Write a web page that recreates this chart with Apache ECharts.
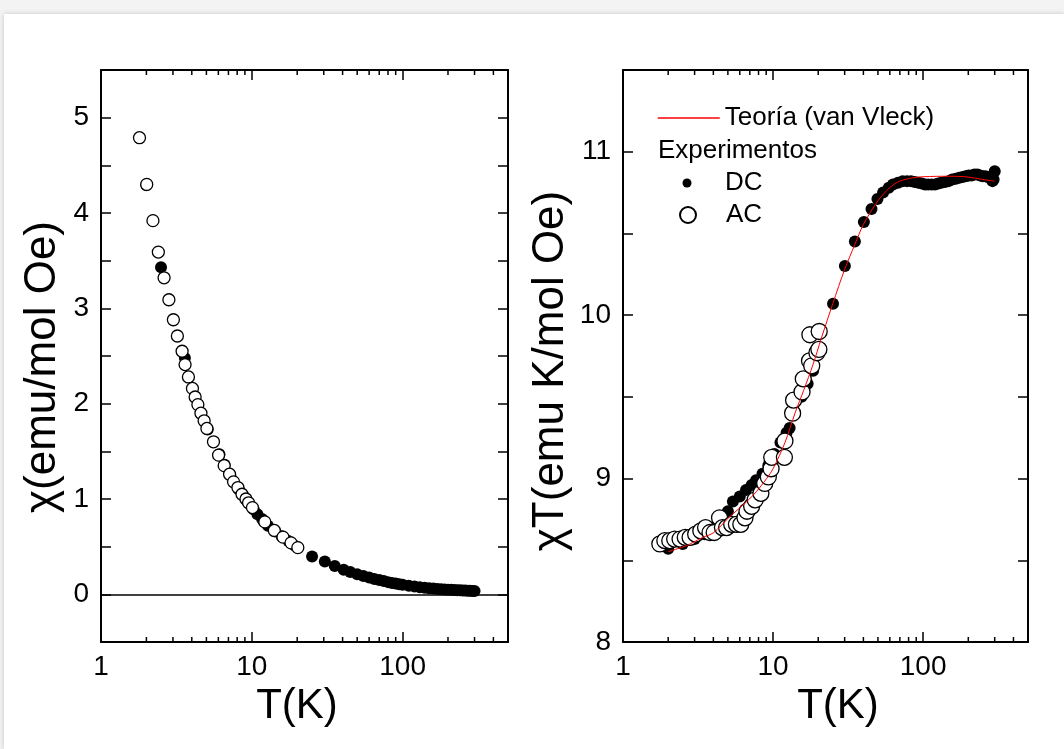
<!DOCTYPE html>
<html><head><meta charset="utf-8">
<script src="https://cdn.jsdelivr.net/npm/echarts@6/dist/echarts.min.js"></script>
<style>
html,body{margin:0;padding:0;background:#f3f3f3;width:1064px;height:749px;overflow:hidden;}
#card{position:absolute;left:4px;top:14px;width:1060px;height:735px;background:#fff;box-shadow:0 0 5px rgba(0,0,0,0.18);}
#chart{position:absolute;left:0;top:0;width:1064px;height:749px;}
</style></head><body><div id="card"></div><div id="chart"></div>
<script>
// ---------- DATA ----------
// Left panel: chi (emu/mol Oe) vs T (K)
const leftDC = [
 [2.0,4.29],[2.5,3.43],[3.6,2.48],[4.4,1.99],[5.1,1.73],[6.1,1.47],[6.6,1.36],[7.2,1.25],[8.2,1.10],
 [9.3,0.98],[10.3,0.89],[10.9,0.84],[11.7,0.79],[12.8,0.72],[14.3,0.66],[15.8,0.61],[17.5,0.56],[19.3,0.51],
 [25.1,0.398],[30.5,0.345],[35.5,0.298],[40.7,0.258],[45,0.235],[50,0.210],[55,0.192],[60,0.176],[65,0.162],
 [70,0.150],[75,0.140],[80,0.128],[85,0.120],[90,0.113],[95,0.107],[100,0.101],[110,0.091],[120,0.083],
 [130,0.075],[140,0.068],[150,0.064],[160,0.060],[170,0.057],[180,0.054],[190,0.051],[200,0.049],[210,0.047],
 [220,0.045],[230,0.043],[240,0.042],[250,0.040],[260,0.039],[270,0.038],[280,0.037],[290,0.036],[300,0.035]
];
const leftAC = [
 [1.80,4.79],[2.01,4.30],[2.21,3.92],[2.40,3.59],[2.62,3.32],[2.82,3.09],[3.02,2.88],[3.21,2.71],[3.45,2.55],
 [3.61,2.41],[3.80,2.28],[4.04,2.16],[4.21,2.07],[4.39,1.99],[4.60,1.90],[4.83,1.82],[5.04,1.74],[5.57,1.60],
 [6.02,1.46],[6.56,1.35],[7.12,1.26],[7.57,1.18],[8.09,1.12],[8.61,1.05],[9.15,1.00],[9.52,0.96],[10.1,0.91],
 [12.2,0.76],[14.1,0.67],[16.1,0.60],[18.2,0.54],[20.2,0.49]
];
// Right panel: chi*T (emu K/mol Oe) vs T (K)
const rightDC = [
 [2.0,8.57],[2.5,8.60],[3.0,8.63],[3.5,8.66],[4.0,8.70],[4.5,8.74],[5.0,8.80],[5.4,8.86],[6.0,8.89],[6.6,8.93],
 [7.2,8.96],[7.7,8.99],[8.5,9.03],[9.3,9.08],[10.2,9.15],[11.2,9.22],[12.3,9.28],[12.9,9.31],[14.0,9.40],
 [15.5,9.50],[17.0,9.58],[18.5,9.66],[20.0,9.80],
 [25.1,10.07],[30.1,10.30],[35.1,10.45],[40.3,10.57],[45.3,10.65],[49.6,10.71],[54.1,10.75],[59,10.78],
 [63,10.80],[68,10.81],[73,10.82],[78,10.82],[83,10.82],[88,10.815],[93,10.81],[98,10.805],[103,10.80],
 [108,10.80],[114,10.80],[120,10.80],[126,10.805],[132,10.81],[140,10.815],[148,10.82],[156,10.83],
 [165,10.835],[174,10.84],[183,10.845],[192,10.85],[201,10.855],[210,10.855],[220,10.86],[230,10.86],
 [240,10.855],[250,10.85],[260,10.85],[270,10.845],[280,10.84],[290,10.82],[295,10.83],[300,10.88]
];
const rightAC = [
 [1.76,8.60],[1.90,8.62],[2.05,8.62],[2.21,8.63],[2.40,8.63],[2.60,8.64],[2.80,8.64],[3.05,8.66],[3.30,8.68],
 [3.55,8.70],[3.80,8.67],[4.05,8.67],[4.40,8.76],[4.60,8.70],[4.90,8.70],[5.30,8.72],[5.70,8.72],[6.10,8.72],
 [6.50,8.76],[6.70,8.80],[7.20,8.83],[7.60,8.87],[8.30,8.91],[8.80,8.97],[9.30,9.01],[9.70,9.06],[9.80,9.13],
 [11.9,9.13],[12.0,9.23],[13.5,9.40],[13.7,9.48],[15.6,9.53],[15.9,9.61],[17.5,9.72],[18.1,9.69],[17.6,9.88],
 [19.6,9.77],[20.2,9.79],[20.3,9.90]
];
const theory = [
 [2.0,8.553],[2.65,8.59],[3.4,8.64],[4.0,8.668],[5.14,8.766],[6.64,8.857],[7.74,8.92],[9.06,9.0],[10,9.06],
 [12,9.22],[14,9.40],[16,9.54],[18.5,9.70],[21,9.86],[25,10.07],[30,10.28],[35,10.43],[40,10.555],[50,10.70],
 [60,10.78],[70,10.82],[85,10.84],[100,10.847],[150,10.85],[200,10.845],[250,10.83],[300,10.82]
];
// Axis tick values
const majorX = [1, 10, 100];
const minorX = [2,3,4,5,6,7,8,9,20,30,40,50,60,70,80,90,200,300,400];
const titles = {
  x: 'T(K)',
  yLeft: 'χ(emu/mol Oe)',
  yRight: 'χT(emu K/mol Oe)',
  theory: 'Teoría (van Vleck)',
  exp: 'Experimentos',
  dc: 'DC',
  ac: 'AC'
};

// ---------- CHART ----------
const FONT = "'Liberation Sans', Arial, Helvetica, sans-serif";
const BLACK = '#000';
const chart = echarts.init(document.getElementById('chart'), null, {renderer: 'canvas'});

function isInt(v){ return Math.abs(v - Math.round(v)) < 1e-6; }
function logLabel(v){
  const l = Math.log10(v);
  if (isInt(l) && majorX.includes(Math.round(v))) return String(Math.round(v));
  return '';
}
function xAxisCfg(grid, pos, namePad){
  const bottom = pos === 'bottom';
  return {
    type: 'log', logBase: 10, gridIndex: grid, min: 1, max: 500, position: pos,
    axisLine: {show: true, onZero: false, lineStyle: {color: BLACK, width: 2}},
    axisTick: {show: true, inside: true, length: 10, lineStyle: {color: BLACK, width: 1.5}},
    axisLabel: {show: bottom, fontSize: 28, color: BLACK, fontFamily: FONT, margin: 11, formatter: logLabel},
    splitLine: {show: false}, minorTick: {show: false}, minorSplitLine: {show: false},
    name: bottom ? titles.x : '', nameLocation: 'middle', nameGap: 40,
    nameTextStyle: {fontSize: 42, color: BLACK, fontFamily: FONT, padding: namePad}
  };
}
function yAxisCfg(grid, pos, min, max, name, gap, pad){
  const left = pos === 'left';
  return {
    type: 'value', gridIndex: grid, min: min, max: max, interval: 0.5, position: pos,
    axisLine: {show: true, onZero: false, lineStyle: {color: BLACK, width: 2}},
    axisTick: {show: true, inside: true, length: 10, lineStyle: {color: BLACK, width: 1.5}},
    axisLabel: {show: left, fontSize: 28, color: BLACK, fontFamily: FONT, margin: 12,
      formatter: v => isInt(v) ? String(Math.round(v)) : ''},
    splitLine: {show: false},
    name: left ? name : '', nameLocation: 'middle', nameGap: gap,
    nameTextStyle: {fontSize: 44, color: BLACK, fontFamily: FONT, padding: pad}
  };
}
function minorTickSeries(xi, yi, yv){
  return {
    type: 'custom', xAxisIndex: xi, yAxisIndex: yi, silent: true, clip: false, z: 10,
    data: minorX.map(v => [v, yv]),
    renderItem: function(params, api){
      const x = api.coord([api.value(0), api.value(1)])[0];
      const cs = params.coordSys;
      const b = cs.y + cs.height;
      const st = {stroke: BLACK, lineWidth: 1.5};
      return {type: 'group', children: [
        {type: 'line', shape: {x1: x, y1: b, x2: x, y2: b - 5}, style: st},
        {type: 'line', shape: {x1: x, y1: cs.y, x2: x, y2: cs.y + 5}, style: st}
      ]};
    }
  };
}

const legendBase = {
  orient: 'vertical', padding: 0, selectedMode: false,
  textStyle: {fontSize: 26, color: BLACK, fontFamily: FONT}
};

const option = {
  animation: false,
  backgroundColor: 'transparent',
  grid: [
    {left: 101, top: 70, width: 407, height: 572},
    {left: 623, top: 70, width: 405, height: 572}
  ],
  xAxis: [
    xAxisCfg(0, 'bottom', [0, 15, 0, 0]),
    xAxisCfg(0, 'top'),
    xAxisCfg(1, 'bottom', [0, 0, 0, 25]),
    xAxisCfg(1, 'top')
  ],
  yAxis: [
    yAxisCfg(0, 'left', -0.5, 5.5, titles.yLeft, 36, [0, 22, 0, 0]),
    yAxisCfg(0, 'right', -0.5, 5.5, ''),
    yAxisCfg(1, 'left', 8, 11.5, titles.yRight, 50, [0, 30, 0, 0]),
    yAxisCfg(1, 'right', 8, 11.5, '')
  ],
  legend: [
    Object.assign({}, legendBase, {left: 657, top: 105, itemWidth: 62, itemHeight: 15,
      itemStyle: {opacity: 0}, lineStyle: {width: 1.5, color: '#ff0000', opacity: 1}, data: [titles.theory]}),
    Object.assign({}, legendBase, {left: 682.5, top: 170, itemWidth: 66, itemHeight: 9, data: [titles.dc]}),
    Object.assign({}, legendBase, {left: 679, top: 202, itemWidth: 66, itemHeight: 16, data: [titles.ac]})
  ],
  graphic: [
    {type: 'text', x: 658, y: 151, silent: true,
     style: {text: titles.exp, fontSize: 26, fontFamily: FONT, fill: BLACK, align: 'left', verticalAlign: 'middle'}}
  ],
  series: [
    {name: 'χ DC', type: 'scatter', xAxisIndex: 0, yAxisIndex: 0, data: leftDC, symbol: 'circle', symbolSize: 12,
     itemStyle: {color: BLACK, opacity: 1}, z: 2,
     markLine: {silent: true, symbol: ['none', 'none'], label: {show: false},
       lineStyle: {color: BLACK, width: 1.5, type: 'solid'}, data: [{yAxis: 0}]}},
    {name: 'χ AC', type: 'scatter', xAxisIndex: 0, yAxisIndex: 0, data: leftAC, symbol: 'circle', symbolSize: 12,
     itemStyle: {color: '#fff', borderColor: BLACK, borderWidth: 1.3, opacity: 1}, z: 3},
    minorTickSeries(0, 0, 0),
    {name: titles.dc, type: 'scatter', xAxisIndex: 2, yAxisIndex: 2, data: rightDC, symbol: 'circle', symbolSize: 12,
     itemStyle: {color: BLACK, opacity: 1}, z: 2},
    {name: titles.ac, type: 'scatter', xAxisIndex: 2, yAxisIndex: 2, data: rightAC, symbol: 'circle', symbolSize: 16,
     itemStyle: {color: '#fff', borderColor: BLACK, borderWidth: 1.3, opacity: 1}, z: 3},
    {name: titles.theory, type: 'line', xAxisIndex: 2, yAxisIndex: 2, data: theory, symbol: 'none', showSymbol: false,
     smooth: 0.3, lineStyle: {color: '#ff0000', width: 1}, itemStyle: {color: '#ff0000'}, z: 4},
    minorTickSeries(2, 2, 9)
  ]
};
chart.setOption(option);
</script></body></html>
